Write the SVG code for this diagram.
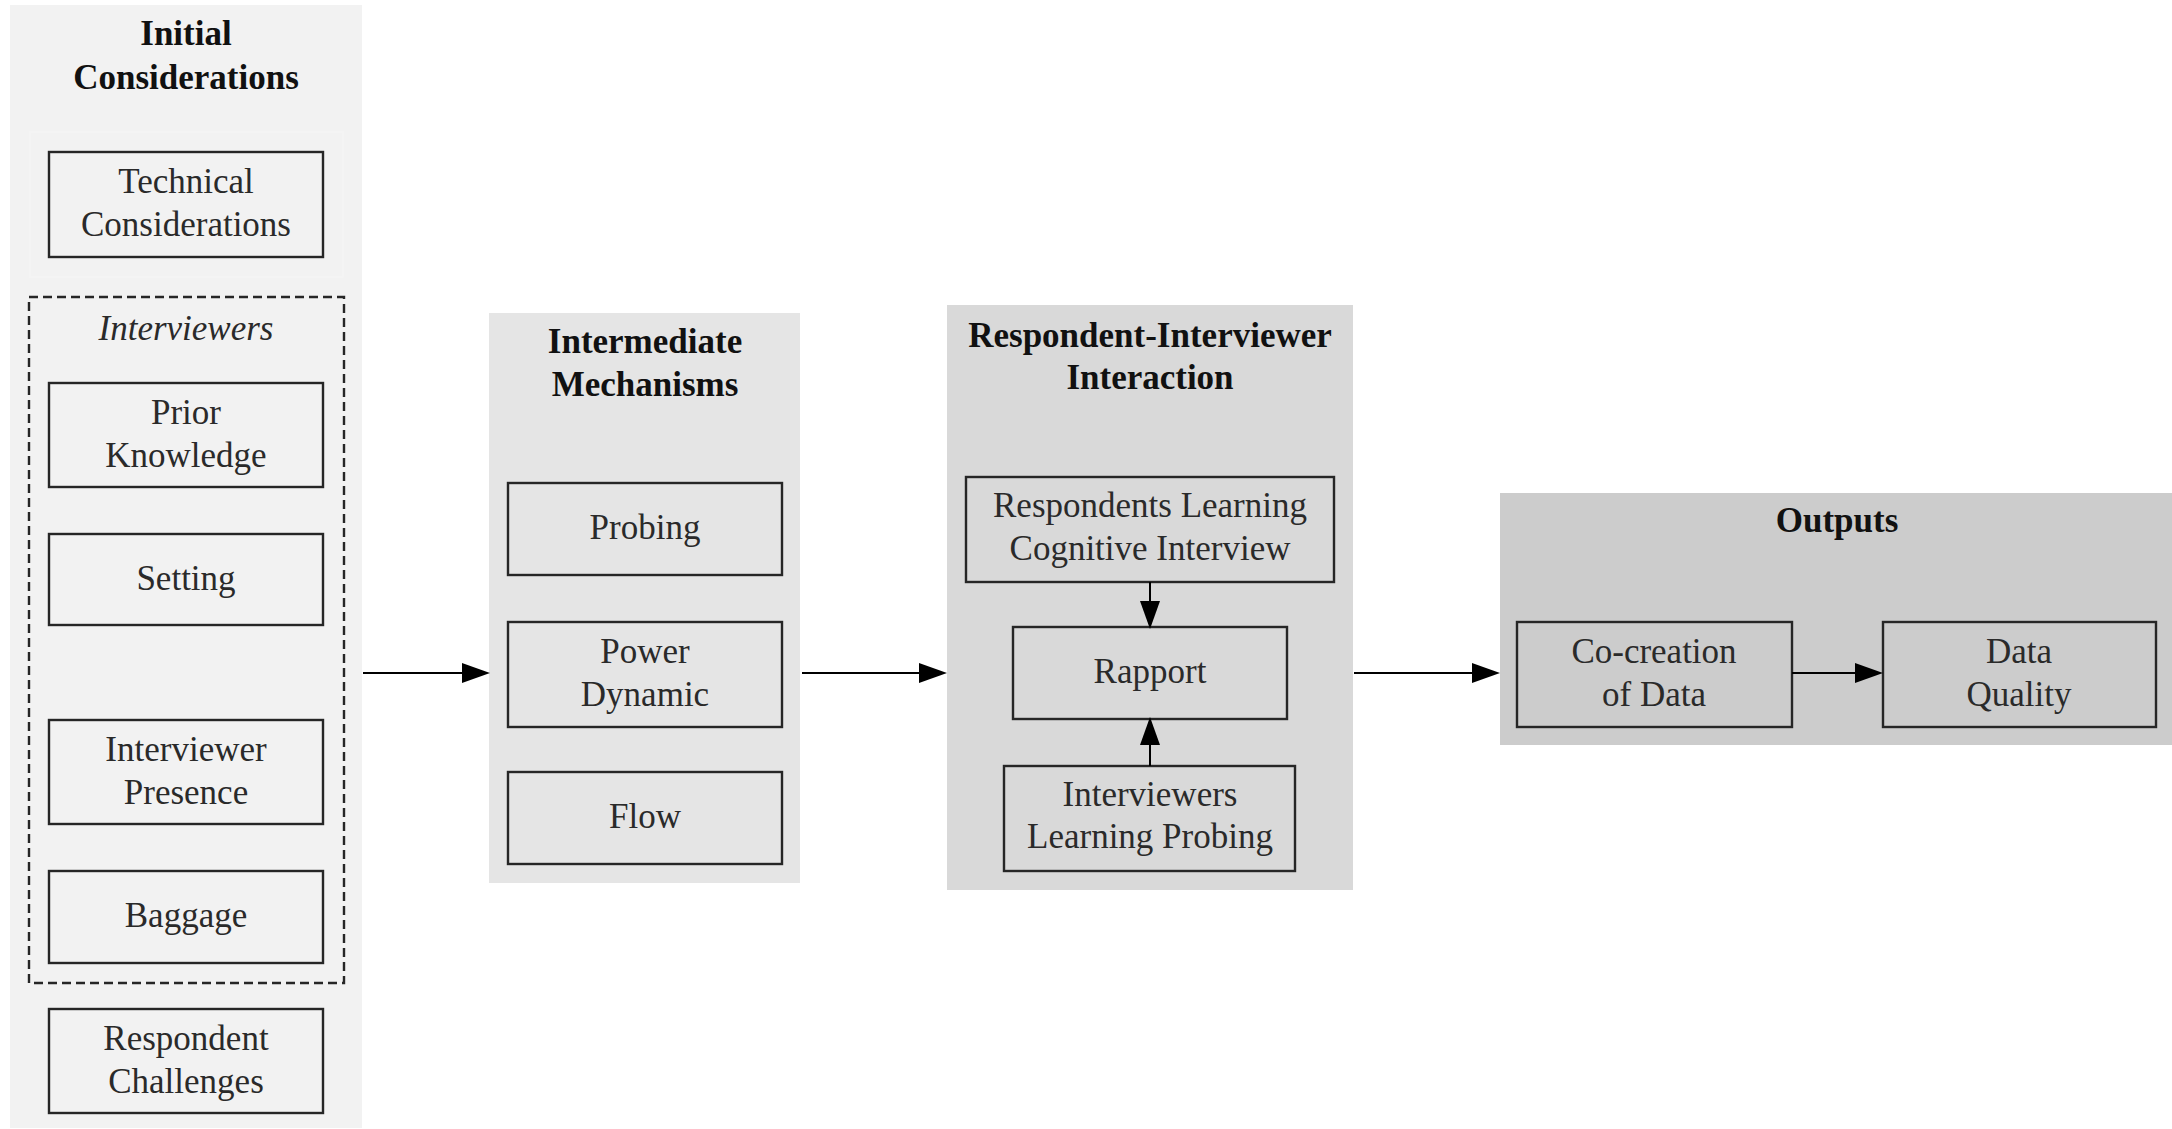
<svg xmlns="http://www.w3.org/2000/svg" width="2172" height="1129" viewBox="0 0 2172 1129">
<style>
  text { font-family: "Liberation Serif", "Times New Roman", serif; font-size: 35px; text-anchor: middle; }
  .title { font-weight: bold; fill: #111; }
  .lbl { fill: #2a2a2a; }
  .ital { font-style: italic; fill: #2a2a2a; }
  .node { stroke: #262626; stroke-width: 2.4; fill: none; }
  .edge { stroke: #000; stroke-width: 2; fill: none; }
</style>
<defs>
  <marker id="ah" markerUnits="userSpaceOnUse" markerWidth="28" markerHeight="20" refX="0" refY="10" orient="auto" viewBox="0 0 28 20">
    <path d="M0,0 L28,10 L0,20 z" fill="#000"/>
  </marker>
</defs>
<rect width="2172" height="1129" fill="#ffffff"/>

<!-- clusters -->
<g id="cluster-initial">
  <rect x="10" y="5" width="352" height="1123" fill="#f2f2f2"/>
  <text class="title" x="186" y="45">Initial</text>
  <text class="title" x="186" y="89">Considerations</text>
  <rect x="30" y="132" width="313" height="145" fill="none" stroke="#f5f5f5" stroke-width="1.2"/>
</g>
<g id="cluster-interviewers">
  <rect x="29" y="297" width="315" height="686" fill="none" stroke="#262626" stroke-width="2.4" stroke-dasharray="9,5"/>
  <text class="ital" x="186" y="340">Interviewers</text>
</g>
<g id="cluster-intermediate">
  <rect x="489" y="313" width="311" height="570" fill="#e5e5e5"/>
  <text class="title" x="645" y="353">Intermediate</text>
  <text class="title" x="645" y="396">Mechanisms</text>
</g>
<g id="cluster-interaction">
  <rect x="947" y="305" width="406" height="585" fill="#d9d9d9"/>
  <text class="title" x="1150" y="347">Respondent-Interviewer</text>
  <text class="title" x="1150" y="389">Interaction</text>
</g>
<g id="cluster-outputs">
  <rect x="1500" y="493" width="680" height="252" fill="#cccccc"/>
  <text class="title" x="1837" y="532">Outputs</text>
</g>

<!-- nodes -->
<g id="technical">
  <rect class="node" x="49" y="152" width="274" height="105"/>
  <text class="lbl" x="186" y="193">Technical</text>
  <text class="lbl" x="186" y="236">Considerations</text>
</g>
<g id="prior-knowledge">
  <rect class="node" x="49" y="383" width="274" height="104"/>
  <text class="lbl" x="186" y="424">Prior</text>
  <text class="lbl" x="186" y="467">Knowledge</text>
</g>
<g id="setting">
  <rect class="node" x="49" y="534" width="274" height="91"/>
  <text class="lbl" x="186" y="590">Setting</text>
</g>
<g id="interviewer-presence">
  <rect class="node" x="49" y="720" width="274" height="104"/>
  <text class="lbl" x="186" y="761">Interviewer</text>
  <text class="lbl" x="186" y="804">Presence</text>
</g>
<g id="baggage">
  <rect class="node" x="49" y="871" width="274" height="92"/>
  <text class="lbl" x="186" y="927">Baggage</text>
</g>
<g id="respondent-challenges">
  <rect class="node" x="49" y="1009" width="274" height="104"/>
  <text class="lbl" x="186" y="1050">Respondent</text>
  <text class="lbl" x="186" y="1093">Challenges</text>
</g>

<g id="probing">
  <rect class="node" x="508" y="483" width="274" height="92"/>
  <text class="lbl" x="645" y="539">Probing</text>
</g>
<g id="power-dynamic">
  <rect class="node" x="508" y="622" width="274" height="105"/>
  <text class="lbl" x="645" y="663">Power</text>
  <text class="lbl" x="645" y="706">Dynamic</text>
</g>
<g id="flow">
  <rect class="node" x="508" y="772" width="274" height="92"/>
  <text class="lbl" x="645" y="828">Flow</text>
</g>

<g id="respondents-learning">
  <rect class="node" x="966" y="477" width="368" height="105"/>
  <text class="lbl" x="1150" y="517">Respondents Learning</text>
  <text class="lbl" x="1150" y="560">Cognitive Interview</text>
</g>
<g id="rapport">
  <rect class="node" x="1013" y="627" width="274" height="92"/>
  <text class="lbl" x="1150" y="683">Rapport</text>
</g>
<g id="interviewers-learning">
  <rect class="node" x="1004" y="766" width="291" height="105"/>
  <text class="lbl" x="1150" y="806">Interviewers</text>
  <text class="lbl" x="1150" y="848">Learning Probing</text>
</g>

<g id="co-creation">
  <rect class="node" x="1517" y="622" width="275" height="105"/>
  <text class="lbl" x="1654" y="663">Co-creation</text>
  <text class="lbl" x="1654" y="706">of Data</text>
</g>
<g id="data-quality">
  <rect class="node" x="1883" y="622" width="273" height="105"/>
  <text class="lbl" x="2019" y="663">Data</text>
  <text class="lbl" x="2019" y="706">Quality</text>
</g>

<!-- connectors -->
<g id="connectors">
  <line class="edge" x1="363" y1="673" x2="462" y2="673" marker-end="url(#ah)"/>
  <line class="edge" x1="802" y1="673" x2="919" y2="673" marker-end="url(#ah)"/>
  <line class="edge" x1="1354" y1="673" x2="1472" y2="673" marker-end="url(#ah)"/>
  <line class="edge" x1="1150" y1="582" x2="1150" y2="601" marker-end="url(#ah)"/>
  <line class="edge" x1="1150" y1="766" x2="1150" y2="745" marker-end="url(#ah)"/>
  <line class="edge" x1="1792" y1="673" x2="1855" y2="673" marker-end="url(#ah)"/>
</g>
</svg>
